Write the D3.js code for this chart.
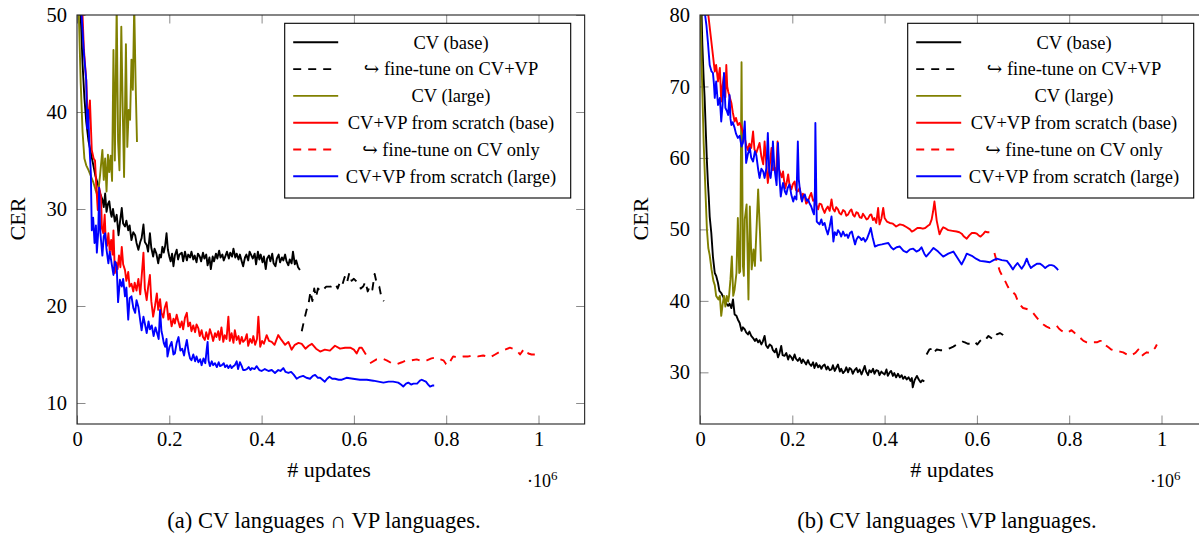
<!DOCTYPE html>
<html><head><meta charset="utf-8">
<script src="https://cdn.jsdelivr.net/npm/d3@7"></script>
<style>
body{margin:0;background:#fff;}
svg text{font-family:"Liberation Serif","Times New Roman",Times,"Tinos","DejaVu Serif","Noto Serif",serif !important;fill:#000;}
</style></head><body>
<svg id="c" width="1199" height="538"></svg>
<script>
// ---------------- DATA (x in units of 10^6 updates, y = CER) ----------------
const xTicks = [0, 0.2, 0.4, 0.6, 0.8, 1];
const xTickLabels = ["0", "0.2", "0.4", "0.6", "0.8", "1"];
const yTicksA = [10, 20, 30, 40, 50];
const yTicksB = [30, 40, 50, 60, 70, 80];
const legendLabels = ["CV (base)", "\u21AA fine-tune on CV+VP", "CV (large)", "CV+VP from scratch (base)", "\u21AA fine-tune on CV only", "CV+VP from scratch (large)"];
const captions = ["(a) CV languages \u2229 VP languages.", "(b) CV languages \\VP languages."];

// Panel (a)
const aCvBase = [[0.004,56],[0.008,50],[0.012,45],[0.016,41.5],[0.02,39],[0.025,37],[0.03,35.8],[0.035,34.6],[0.04,33.4],[0.045,32.6],[0.05,31.6],[0.055,31.0],[0.058,30.2],[0.061,31.6],[0.064,29.7],[0.067,30.5],[0.07,30.8],[0.073,29.6],[0.075,29.2],[0.078,30.0],[0.082,28.7],[0.086,29.4],[0.09,27.3],[0.093,28.6],[0.097,30.1],[0.1,28.5],[0.104,28.2],[0.107,28.8],[0.111,27.8],[0.114,28.3],[0.118,26.8],[0.122,27.6],[0.126,27.3],[0.129,26.5],[0.133,25.8],[0.137,26.6],[0.14,27.0],[0.144,28.4],[0.147,26.6],[0.151,26.3],[0.154,25.6],[0.158,27.5],[0.161,26.0],[0.165,25.1],[0.168,25.9],[0.172,25.4],[0.176,24.4],[0.179,25.3],[0.182,25.0],[0.185,26.1],[0.188,25.5],[0.191,26.2],[0.194,27.5],[0.197,25.8],[0.2,25.1],[0.203,24.6],[0.206,25.4],[0.209,24.1],[0.212,25.2],[0.216,25.8],[0.219,24.8],[0.222,25.3],[0.227,25.5],[0.23,24.6],[0.234,25.6],[0.238,24.7],[0.241,25.3],[0.245,25.0],[0.248,25.6],[0.252,24.8],[0.255,25.2],[0.259,24.5],[0.262,25.4],[0.266,25.1],[0.269,24.6],[0.273,25.5],[0.276,24.9],[0.28,25.3],[0.283,24.2],[0.287,25.0],[0.29,23.8],[0.294,25.1],[0.297,24.6],[0.301,25.4],[0.304,24.9],[0.308,25.7],[0.311,25.0],[0.315,25.3],[0.318,24.7],[0.322,25.2],[0.325,25.6],[0.329,24.9],[0.332,25.5],[0.336,25.1],[0.339,25.9],[0.343,25.0],[0.346,25.4],[0.35,24.8],[0.353,25.3],[0.357,24.6],[0.36,24.1],[0.364,25.0],[0.367,25.3],[0.371,24.7],[0.374,25.6],[0.378,25.2],[0.381,24.9],[0.385,25.4],[0.388,24.3],[0.392,25.6],[0.395,24.8],[0.398,25.3],[0.402,24.5],[0.405,25.1],[0.409,23.8],[0.412,24.9],[0.416,25.2],[0.419,24.6],[0.423,25.4],[0.426,24.4],[0.43,24.1],[0.433,24.9],[0.437,25.3],[0.44,24.5],[0.444,25.0],[0.447,24.7],[0.451,25.3],[0.454,24.6],[0.458,24.2],[0.461,24.8],[0.465,24.4],[0.468,25.6],[0.472,24.3],[0.475,24.7],[0.479,24.0],[0.483,23.7]];
const aCvBaseFt = [[0.487,17.4],[0.492,18.5],[0.497,19.5],[0.502,20.3],[0.506,21.5],[0.51,20.5],[0.514,21.8],[0.518,20.9],[0.522,21.8],[0.53,21.5],[0.54,22.0],[0.55,22.0],[0.56,22.3],[0.565,21.8],[0.57,22.5],[0.575,22.2],[0.58,23.0],[0.585,22.4],[0.59,23.4],[0.595,22.6],[0.6,22.8],[0.61,22.3],[0.615,21.8],[0.62,22.0],[0.625,22.5],[0.63,21.5],[0.635,22.1],[0.64,21.7],[0.645,23.3],[0.65,22.2],[0.655,22.0],[0.66,20.8],[0.665,20.5]];
const aCvLarge = [[0.0,60],[0.004,50],[0.008,43],[0.012,38],[0.016,35.2],[0.02,34.5],[0.025,34],[0.03,33.4],[0.035,32.8],[0.04,32.0],[0.045,31.3],[0.05,33.5],[0.055,36.1],[0.058,33.0],[0.061,35.2],[0.064,31.8],[0.067,35.6],[0.07,33.8],[0.073,35.5],[0.076,32.9],[0.079,46.4],[0.082,35.0],[0.086,51],[0.089,37.0],[0.092,34.0],[0.096,48.8],[0.099,40.5],[0.102,33.3],[0.106,47.0],[0.109,36.4],[0.112,40.2],[0.115,39.2],[0.118,45.4],[0.121,42.3],[0.124,51],[0.127,43.0],[0.13,36.9]];
const aScratchBase = [[0.008,56],[0.012,50],[0.015,46.4],[0.02,43.3],[0.024,38.5],[0.028,41.2],[0.032,36.1],[0.036,35.2],[0.039,35.0],[0.042,32.2],[0.045,29.9],[0.048,32.2],[0.052,31.3],[0.054,28.0],[0.057,27.5],[0.06,29.4],[0.062,27.0],[0.065,26.2],[0.068,27.5],[0.071,25.6],[0.074,26.8],[0.077,25.3],[0.079,27.8],[0.082,23.4],[0.085,24.5],[0.088,23.8],[0.091,25.2],[0.094,24.0],[0.097,26.1],[0.1,24.3],[0.104,23.7],[0.107,22.6],[0.111,23.5],[0.114,22.0],[0.118,22.3],[0.122,21.5],[0.125,22.4],[0.129,21.6],[0.133,22.8],[0.137,21.2],[0.141,23.6],[0.144,25.5],[0.147,21.8],[0.151,20.6],[0.154,21.9],[0.158,23.2],[0.161,20.5],[0.165,18.9],[0.169,20.0],[0.173,21.3],[0.176,19.6],[0.18,20.7],[0.183,19.3],[0.187,18.8],[0.19,19.8],[0.194,20.4],[0.198,18.6],[0.201,19.2],[0.205,17.9],[0.209,18.7],[0.212,18.2],[0.216,19.1],[0.219,18.5],[0.223,17.8],[0.227,18.4],[0.23,17.6],[0.234,18.8],[0.238,19.3],[0.241,17.9],[0.245,18.3],[0.248,17.4],[0.252,18.0],[0.256,17.3],[0.259,18.1],[0.263,17.7],[0.266,16.9],[0.27,17.5],[0.273,16.8],[0.277,16.5],[0.28,17.3],[0.284,16.6],[0.288,17.6],[0.292,17.0],[0.295,16.4],[0.299,17.2],[0.302,16.8],[0.306,17.4],[0.309,16.5],[0.313,17.8],[0.317,16.3],[0.32,17.0],[0.324,16.6],[0.328,18.9],[0.331,16.4],[0.335,17.2],[0.339,16.2],[0.342,17.5],[0.346,16.5],[0.35,16.9],[0.353,16.1],[0.357,16.8],[0.36,16.3],[0.364,16.5],[0.368,17.1],[0.371,15.9],[0.375,16.6],[0.379,16.2],[0.382,16.9],[0.386,16.0],[0.39,16.6],[0.393,18.9],[0.397,15.8],[0.401,16.4],[0.405,16.1],[0.411,17.0],[0.416,16.4],[0.422,16.3],[0.428,16.0],[0.436,17.0],[0.443,16.5],[0.451,16.0],[0.458,16.3],[0.465,15.5],[0.472,16.0],[0.48,16.2],[0.487,16.1],[0.495,15.6],[0.502,15.9],[0.509,16.1],[0.518,15.6],[0.527,15.3],[0.537,15.5],[0.548,15.4],[0.559,15.9],[0.57,15.6],[0.581,15.7],[0.592,15.7],[0.6,15.5],[0.606,15.1],[0.612,15.7],[0.617,15.7],[0.626,15.0]];
const aScratchBaseFt = [[0.635,14.1],[0.649,14.5],[0.66,14.6],[0.671,14.4],[0.682,14.1],[0.693,14.0],[0.704,14.2],[0.714,14.4],[0.725,14.4],[0.736,14.5],[0.747,14.3],[0.758,14.4],[0.768,14.6],[0.779,14.7],[0.787,14.5],[0.794,14.4],[0.8,14.0],[0.805,13.9],[0.81,14.4],[0.815,14.8],[0.826,14.7],[0.837,14.8],[0.848,14.8],[0.859,14.9],[0.869,14.8],[0.88,14.9],[0.888,14.8],[0.895,14.7],[0.906,15.0],[0.917,15.3],[0.927,15.5],[0.938,15.7],[0.944,15.6],[0.949,15.5],[0.955,15.3],[0.96,15.0],[0.966,15.4],[0.971,15.6],[0.978,15.1],[0.985,15.0],[0.992,15.0]];
const aScratchLarge = [[0.006,56],[0.01,50],[0.015,46],[0.02,43.3],[0.022,38.3],[0.024,40.2],[0.027,36.5],[0.03,33.7],[0.032,27.8],[0.035,29.1],[0.038,26.5],[0.041,28.3],[0.043,25.5],[0.046,27.6],[0.048,32.2],[0.05,28.0],[0.052,26.8],[0.055,25.2],[0.058,27.2],[0.061,27.5],[0.064,25.8],[0.068,24.4],[0.071,25.6],[0.075,24.4],[0.079,23.2],[0.082,24.6],[0.086,24.1],[0.089,20.4],[0.093,22.7],[0.097,22.0],[0.1,22.8],[0.104,21.0],[0.107,21.9],[0.111,18.6],[0.114,20.8],[0.118,21.0],[0.122,19.8],[0.126,19.3],[0.129,20.6],[0.133,19.9],[0.137,18.5],[0.14,17.5],[0.144,18.9],[0.147,18.2],[0.151,17.2],[0.155,18.4],[0.158,17.6],[0.162,18.0],[0.166,16.9],[0.17,17.8],[0.173,17.3],[0.177,16.6],[0.18,19.6],[0.183,17.4],[0.185,17.0],[0.188,16.2],[0.191,15.8],[0.194,16.6],[0.196,14.8],[0.2,15.7],[0.205,16.3],[0.209,15.0],[0.212,15.1],[0.216,16.2],[0.22,16.8],[0.224,15.4],[0.228,15.6],[0.232,14.9],[0.235,15.8],[0.238,16.5],[0.242,15.2],[0.245,14.6],[0.248,14.4],[0.252,15.0],[0.256,14.3],[0.259,14.8],[0.263,14.2],[0.267,14.5],[0.27,13.9],[0.274,14.6],[0.278,14.1],[0.281,15.5],[0.283,16.3],[0.285,14.4],[0.288,13.8],[0.292,14.3],[0.295,13.9],[0.299,14.1],[0.303,13.7],[0.307,14.2],[0.31,13.8],[0.314,13.9],[0.318,14.1],[0.321,13.7],[0.325,13.9],[0.328,13.6],[0.332,13.9],[0.335,13.6],[0.339,13.8],[0.342,13.9],[0.346,14.3],[0.349,13.5],[0.353,14.2],[0.357,13.8],[0.36,13.4],[0.364,13.4],[0.368,13.5],[0.372,13.7],[0.376,13.4],[0.379,13.6],[0.385,13.5],[0.389,13.8],[0.395,13.4],[0.4,13.3],[0.407,13.5],[0.415,13.3],[0.422,13.4],[0.429,13.1],[0.436,13.4],[0.441,13.3],[0.447,13.6],[0.452,13.2],[0.458,13.1],[0.464,13.2],[0.47,12.9],[0.476,12.5],[0.483,12.7],[0.49,12.8],[0.497,12.6],[0.505,12.5],[0.511,12.8],[0.516,12.9],[0.522,12.6],[0.527,12.6],[0.532,12.4],[0.537,12.2],[0.542,12.5],[0.547,12.7],[0.553,12.5],[0.559,12.5],[0.567,12.4],[0.574,12.4],[0.584,12.6],[0.598,12.5],[0.613,12.4],[0.628,12.4],[0.642,12.3],[0.653,12.2],[0.664,12.1],[0.675,12.2],[0.685,12.2],[0.696,12.1],[0.702,11.9],[0.707,11.7],[0.713,12.0],[0.718,12.1],[0.724,11.9],[0.729,12.0],[0.737,12.0],[0.743,12.3],[0.747,12.4],[0.751,12.3],[0.756,12.2],[0.761,11.9],[0.765,11.7],[0.77,11.8],[0.774,11.8]];

// Panel (b)
const bCvBase = [[0.002,84],[0.005,76],[0.008,71],[0.01,68.4],[0.013,63],[0.015,59.5],[0.017,56.7],[0.019,54.5],[0.021,51.8],[0.0245,49.5],[0.028,46.2],[0.032,43.9],[0.035,43.5],[0.039,42.5],[0.042,41.4],[0.046,41.1],[0.05,40.6],[0.053,40.2],[0.057,39.6],[0.061,39.3],[0.064,39.6],[0.068,39.0],[0.0715,40.2],[0.075,38.1],[0.079,37.9],[0.082,37.4],[0.086,36.9],[0.09,35.8],[0.093,36.3],[0.097,36.0],[0.1,35.6],[0.104,35.3],[0.107,35.7],[0.111,35.1],[0.115,34.8],[0.119,34.4],[0.122,34.7],[0.126,34.2],[0.129,34.5],[0.133,33.9],[0.136,34.3],[0.14,35.1],[0.143,33.8],[0.147,33.4],[0.151,33.9],[0.155,33.7],[0.158,33.1],[0.162,32.8],[0.165,33.3],[0.169,32.1],[0.172,32.6],[0.176,33.7],[0.179,32.4],[0.183,32.3],[0.187,32.7],[0.191,31.8],[0.194,32.4],[0.198,32.1],[0.201,31.7],[0.205,32.5],[0.208,31.9],[0.212,31.6],[0.216,32.0],[0.22,31.3],[0.223,31.8],[0.227,31.4],[0.23,31.1],[0.234,31.7],[0.237,31.2],[0.241,30.9],[0.245,31.4],[0.248,30.6],[0.252,31.3],[0.256,30.7],[0.259,31.0],[0.263,30.5],[0.266,30.9],[0.27,31.1],[0.274,30.4],[0.277,30.8],[0.281,30.3],[0.285,30.4],[0.288,31.0],[0.292,30.2],[0.295,30.6],[0.299,31.1],[0.303,30.1],[0.306,30.5],[0.31,29.9],[0.314,30.2],[0.317,30.7],[0.321,30.0],[0.324,30.6],[0.328,30.4],[0.331,29.8],[0.335,30.3],[0.339,30.6],[0.342,30.0],[0.346,30.4],[0.35,29.7],[0.353,30.2],[0.357,30.9],[0.36,30.1],[0.364,29.6],[0.367,30.3],[0.371,30.0],[0.375,30.5],[0.378,29.8],[0.382,30.3],[0.386,30.2],[0.389,29.6],[0.393,30.1],[0.396,29.9],[0.4,29.7],[0.404,30.4],[0.407,29.5],[0.411,30.0],[0.414,30.2],[0.418,29.5],[0.421,29.9],[0.425,29.3],[0.429,29.8],[0.433,29.3],[0.437,29.6],[0.44,29.1],[0.444,29.4],[0.448,29.0],[0.452,29.3],[0.456,28.8],[0.459,29.2],[0.461,27.9],[0.465,28.9],[0.47,29.5],[0.474,29.0],[0.478,28.6],[0.482,28.9],[0.486,28.7]];
const bCvBaseFt = [[0.491,32.5],[0.497,33.2],[0.502,33.3],[0.506,32.7],[0.513,33.2],[0.52,33.1],[0.527,33.1],[0.535,33.2],[0.542,33.4],[0.549,33.6],[0.556,33.9],[0.563,34.1],[0.569,34.3],[0.574,34.2],[0.58,34.0],[0.585,34.0],[0.591,34.3],[0.596,34.2],[0.601,33.9],[0.607,34.4],[0.614,34.8],[0.619,34.6],[0.625,35.1],[0.631,34.8],[0.636,34.6],[0.643,35.3],[0.65,35.5],[0.655,35.3],[0.659,35.1]];
const bCvLarge = [[0.0,84],[0.004,72],[0.008,62],[0.012,55],[0.015,50],[0.018,47.4],[0.021,46.4],[0.025,44.4],[0.029,42.8],[0.032,42.2],[0.035,40.7],[0.04,40.2],[0.043,40.7],[0.046,37.9],[0.049,39.5],[0.052,40.7],[0.055,39.2],[0.058,40.7],[0.061,39.9],[0.063,40.7],[0.066,43.0],[0.069,46.2],[0.072,40.7],[0.075,41.6],[0.079,43.9],[0.082,51.6],[0.085,43.9],[0.087,44.1],[0.09,73.4],[0.093,44.9],[0.095,43.5],[0.097,51.4],[0.101,53.5],[0.105,40.2],[0.108,53.2],[0.112,44.4],[0.116,47.2],[0.119,44.9],[0.123,50.9],[0.126,55.6],[0.13,49.5],[0.132,45.5]];
const bScratchBase = [[0.014,84],[0.018,80],[0.023,77.2],[0.028,74.4],[0.032,72.1],[0.035,73.0],[0.039,70.7],[0.043,72.6],[0.046,67.9],[0.049,70.2],[0.052,71.6],[0.055,68.5],[0.057,73.0],[0.059,70.0],[0.061,69.3],[0.064,68.6],[0.068,67.7],[0.071,66.4],[0.075,65.1],[0.078,65.6],[0.082,64.6],[0.086,64.9],[0.09,64.2],[0.093,63.6],[0.097,62.8],[0.1,61.8],[0.104,61.1],[0.107,62.0],[0.111,61.4],[0.115,63.7],[0.118,61.2],[0.122,60.7],[0.125,61.3],[0.129,62.1],[0.133,60.2],[0.137,59.1],[0.14,62.3],[0.144,58.9],[0.147,56.5],[0.151,58.8],[0.155,61.4],[0.158,58.3],[0.162,58.6],[0.165,57.9],[0.168,62.3],[0.171,58.5],[0.173,58.1],[0.177,57.3],[0.18,58.1],[0.182,56.9],[0.185,55.8],[0.188,56.6],[0.191,57.7],[0.194,56.2],[0.198,55.6],[0.201,56.3],[0.205,56.7],[0.208,55.5],[0.212,55.3],[0.216,55.8],[0.22,54.2],[0.223,55.0],[0.227,54.6],[0.23,53.6],[0.234,53.9],[0.237,54.5],[0.241,55.1],[0.245,54.0],[0.248,54.2],[0.252,53.4],[0.256,52.8],[0.259,53.6],[0.263,53.5],[0.266,52.9],[0.27,52.3],[0.273,52.8],[0.277,53.2],[0.281,52.6],[0.285,54.2],[0.288,52.9],[0.292,52.5],[0.295,53.1],[0.299,52.8],[0.302,52.3],[0.306,52.1],[0.31,52.7],[0.314,52.5],[0.317,51.9],[0.321,52.1],[0.325,52.6],[0.328,52.8],[0.332,52.0],[0.335,51.8],[0.339,52.4],[0.342,52.3],[0.346,51.7],[0.35,51.6],[0.353,52.2],[0.357,51.8],[0.361,51.4],[0.364,51.5],[0.368,52.0],[0.371,52.1],[0.375,51.3],[0.378,51.6],[0.382,50.9],[0.386,53.0],[0.389,50.7],[0.393,51.5],[0.397,53.0],[0.4,51.6],[0.405,51.1],[0.411,50.9],[0.418,50.8],[0.425,50.4],[0.433,50.7],[0.44,50.6],[0.448,50.3],[0.455,50.0],[0.459,49.7],[0.465,49.9],[0.471,50.2],[0.477,50.2],[0.483,50.1],[0.488,50.2],[0.494,50.5],[0.498,50.7],[0.502,51.4],[0.505,52.5],[0.508,53.9],[0.513,51.2],[0.519,49.3],[0.523,49.9],[0.527,50.3],[0.533,50.1],[0.538,49.9],[0.547,49.8],[0.556,49.7],[0.562,49.6],[0.567,49.4],[0.572,49.0],[0.578,48.7],[0.584,49.2],[0.589,49.5],[0.595,49.5],[0.6,49.4],[0.605,49.1],[0.608,49.0],[0.613,49.3],[0.618,49.7],[0.623,49.6],[0.627,49.6]];
const bScratchBaseFt = [[0.638,46.7],[0.643,45.5],[0.65,44.1],[0.656,43.4],[0.661,42.8],[0.667,42.0],[0.672,41.4],[0.678,41.2],[0.683,40.9],[0.688,40.1],[0.693,39.5],[0.7,39.0],[0.706,38.9],[0.711,38.8],[0.717,38.6],[0.722,38.3],[0.728,37.8],[0.733,37.4],[0.739,37.0],[0.744,36.7],[0.751,36.4],[0.758,36.2],[0.765,36.4],[0.773,36.5],[0.778,36.1],[0.784,35.8],[0.79,35.6],[0.795,35.5],[0.8,35.7],[0.805,35.9],[0.812,35.5],[0.82,35.1],[0.826,34.7],[0.831,34.4],[0.838,34.2],[0.845,34.1],[0.852,34.2],[0.86,34.2],[0.867,34.4],[0.874,34.4],[0.879,33.8],[0.885,33.5],[0.891,33.2],[0.897,33.1],[0.903,33.0],[0.91,32.9],[0.917,32.8],[0.925,32.5],[0.932,32.3],[0.938,32.5],[0.943,32.7],[0.95,33.2],[0.955,32.6],[0.957,32.3],[0.963,32.6],[0.968,32.8],[0.975,32.7],[0.98,33.0],[0.986,33.4],[0.99,33.9]];
const bScratchLarge = [[0.008,84],[0.011,80],[0.014,78.5],[0.017,76.3],[0.021,73.0],[0.025,72.1],[0.028,71.9],[0.03,70.5],[0.032,68.4],[0.035,70.7],[0.039,67.4],[0.043,68.4],[0.046,65.1],[0.049,67.5],[0.052,71.9],[0.055,67.0],[0.058,66.6],[0.061,66.0],[0.064,68.8],[0.066,65.5],[0.068,64.6],[0.071,65.0],[0.075,64.2],[0.078,63.4],[0.082,62.8],[0.086,63.1],[0.09,61.6],[0.093,62.1],[0.097,65.1],[0.1,59.3],[0.104,60.6],[0.108,61.4],[0.111,60.0],[0.115,59.5],[0.119,60.9],[0.122,60.4],[0.126,58.4],[0.129,57.2],[0.133,58.5],[0.137,58.1],[0.14,57.2],[0.144,58.6],[0.147,63.5],[0.15,58.0],[0.153,57.2],[0.156,59.0],[0.158,62.3],[0.161,58.8],[0.163,57.7],[0.166,56.2],[0.169,62.1],[0.172,57.4],[0.175,54.6],[0.178,55.9],[0.18,56.5],[0.184,55.3],[0.187,54.9],[0.19,55.8],[0.194,56.3],[0.198,54.8],[0.202,53.9],[0.205,54.6],[0.209,54.2],[0.212,62.3],[0.214,57.0],[0.216,55.8],[0.219,54.6],[0.221,53.9],[0.224,54.6],[0.227,54.9],[0.231,54.0],[0.234,54.2],[0.237,53.7],[0.241,53.2],[0.244,52.6],[0.247,52.1],[0.249,55.5],[0.25,64.9],[0.252,55.0],[0.253,51.1],[0.256,50.9],[0.259,50.7],[0.263,51.4],[0.266,50.6],[0.27,50.9],[0.273,50.1],[0.277,49.3],[0.281,50.4],[0.285,51.8],[0.289,48.3],[0.292,49.6],[0.296,49.2],[0.299,49.9],[0.303,49.5],[0.306,49.0],[0.31,49.7],[0.314,49.1],[0.318,49.3],[0.321,48.8],[0.325,49.5],[0.329,49.7],[0.332,48.9],[0.336,47.9],[0.339,48.6],[0.343,49.0],[0.347,48.8],[0.35,48.5],[0.354,48.8],[0.358,48.3],[0.362,48.7],[0.366,49.4],[0.37,50.2],[0.374,48.9],[0.379,47.6],[0.386,47.8],[0.394,47.9],[0.401,48.0],[0.408,48.1],[0.414,47.5],[0.419,47.2],[0.426,47.5],[0.433,47.6],[0.441,47.0],[0.448,46.8],[0.455,47.2],[0.462,47.3],[0.469,46.9],[0.475,47.1],[0.48,47.5],[0.486,46.6],[0.49,46.2],[0.497,46.7],[0.506,47.4],[0.516,46.9],[0.527,46.2],[0.538,46.6],[0.549,46.9],[0.558,46.0],[0.567,45.1],[0.574,46.0],[0.578,46.6],[0.589,46.3],[0.598,45.9],[0.607,45.6],[0.618,45.5],[0.628,45.4],[0.636,45.7],[0.643,45.9],[0.654,45.7],[0.665,45.6],[0.672,45.0],[0.678,44.4],[0.683,44.9],[0.688,45.3],[0.697,44.5],[0.703,45.1],[0.708,45.9],[0.712,45.2],[0.717,44.6],[0.723,44.9],[0.73,45.2],[0.737,45.2],[0.743,44.9],[0.748,44.6],[0.752,44.8],[0.757,45.0],[0.762,45.0],[0.767,44.9],[0.772,44.6],[0.776,44.3]];

const seriesColors = ["#000000", "#000000", "#808000", "#ff0000", "#ff0000", "#0000ff"];
const seriesDashed = [false, true, false, false, true, false];

// ---------------- DRAWING ----------------
const FONT = '"Liberation Serif","Times New Roman",Times,Tinos,"DejaVu Serif","Noto Serif",serif';
const svg = d3.select("#c").attr("font-family", FONT);
const W = 507.65, TOP = 15, BOTTOM = 424;

function panel(id, left, yDomain, yTicks, series, caption) {
  const x = d3.scaleLinear().domain([0, 1.1]).range([left, left + W]);
  const y = d3.scaleLinear().domain(yDomain).range([BOTTOM, TOP]);
  const g = svg.append("g").attr("font-family", FONT);

  g.append("clipPath").attr("id", "clip" + id)
    .append("rect").attr("x", left).attr("y", TOP).attr("width", W).attr("height", BOTTOM - TOP);

  const tickLen = 8.5;
  const styleAxis = sel => {
    sel.attr("font-family", FONT).attr("font-size", 20);
    sel.select(".domain").remove();
    sel.selectAll(".tick line").attr("stroke", "#8a8a8a").attr("stroke-width", 1);
    sel.selectAll(".tick text").attr("font-size", "20.5px").attr("font-family", FONT).attr("fill", "#000");
  };
  g.append("g").attr("transform", `translate(0,${BOTTOM})`)
    .call(d3.axisBottom(x).tickValues(xTicks).tickFormat((d, i) => xTickLabels[i]).tickSizeInner(-tickLen).tickSizeOuter(0).tickPadding(7))
    .call(styleAxis);
  g.append("g").attr("transform", `translate(0,${TOP})`)
    .call(d3.axisTop(x).tickValues(xTicks).tickFormat("").tickSizeInner(-tickLen).tickSizeOuter(0))
    .call(styleAxis);
  g.append("g").attr("transform", `translate(${left},0)`)
    .call(d3.axisLeft(y).tickValues(yTicks).tickFormat(d3.format("d")).tickSizeInner(-tickLen).tickSizeOuter(0).tickPadding(10))
    .call(styleAxis);
  g.append("g").attr("transform", `translate(${left + W},0)`)
    .call(d3.axisRight(y).tickValues(yTicks).tickFormat("").tickSizeInner(-tickLen).tickSizeOuter(0))
    .call(styleAxis);

  const line = d3.line().x(d => x(d[0])).y(d => y(d[1]));
  const plot = g.append("g").attr("clip-path", `url(#clip${id})`);
  series.forEach((s, i) => {
    plot.append("path").datum(s)
      .attr("d", line)
      .attr("fill", "none")
      .attr("stroke", seriesColors[i])
      .attr("stroke-width", 1.9)
      .attr("stroke-linejoin", "round")
      .attr("stroke-dasharray", seriesDashed[i] ? "8,7" : null);
  });

  g.append("rect").attr("x", left).attr("y", TOP).attr("width", W).attr("height", BOTTOM - TOP)
    .attr("fill", "none").attr("stroke", "#222").attr("stroke-width", 1.1);

  // legend
  const lx = left + 207.7, ly = 23.3, lw = 286, lh = 174.7;
  const lg = g.append("g");
  lg.append("rect").attr("x", lx).attr("y", ly).attr("width", lw).attr("height", lh)
    .attr("fill", "#fff").attr("stroke", "#000").attr("stroke-width", 1.1);
  legendLabels.forEach((lab, i) => {
    const cy = ly + 19 + i * 26.8;
    lg.append("line").attr("x1", lx + 8.5).attr("x2", lx + 53.5).attr("y1", cy).attr("y2", cy)
      .attr("stroke", seriesColors[i]).attr("stroke-width", 1.9)
      .attr("stroke-dasharray", seriesDashed[i] ? "8,7" : null);
    lg.append("text").attr("x", lx + 166.3).attr("y", cy).attr("dy", "0.34em")
      .attr("text-anchor", "middle").attr("font-size", "18.5px").attr("font-family", FONT).text(lab);
  });

  // axis labels
  const cx = left + 252;
  g.append("text").attr("x", cx).attr("y", 477).attr("text-anchor", "middle").attr("font-size", "22px").attr("font-family", FONT).text("# updates");
  const m = g.append("text").attr("x", left + 450).attr("y", 487).attr("font-size", "18px").attr("font-family", FONT);
  m.append("tspan").text("\u00B710");
  m.append("tspan").attr("dy", -7).attr("font-size", "13px").text("6");
  g.append("text").attr("transform", `translate(${left - 52},219) rotate(-90)`)
    .attr("text-anchor", "middle").attr("font-size", "22px").attr("font-family", FONT).text("CER");
  g.append("text").attr("x", left + 247).attr("y", 528).attr("text-anchor", "middle").attr("font-size", "22.5px").attr("font-family", FONT).text(caption);
}

panel("a", 77, [7.835, 50], yTicksA, [aCvBase, aCvBaseFt, aCvLarge, aScratchBase, aScratchBaseFt, aScratchLarge], captions[0]);
panel("b", 700, [22.77, 80], yTicksB, [bCvBase, bCvBaseFt, bCvLarge, bScratchBase, bScratchBaseFt, bScratchLarge], captions[1]);
</script>
</body></html>
